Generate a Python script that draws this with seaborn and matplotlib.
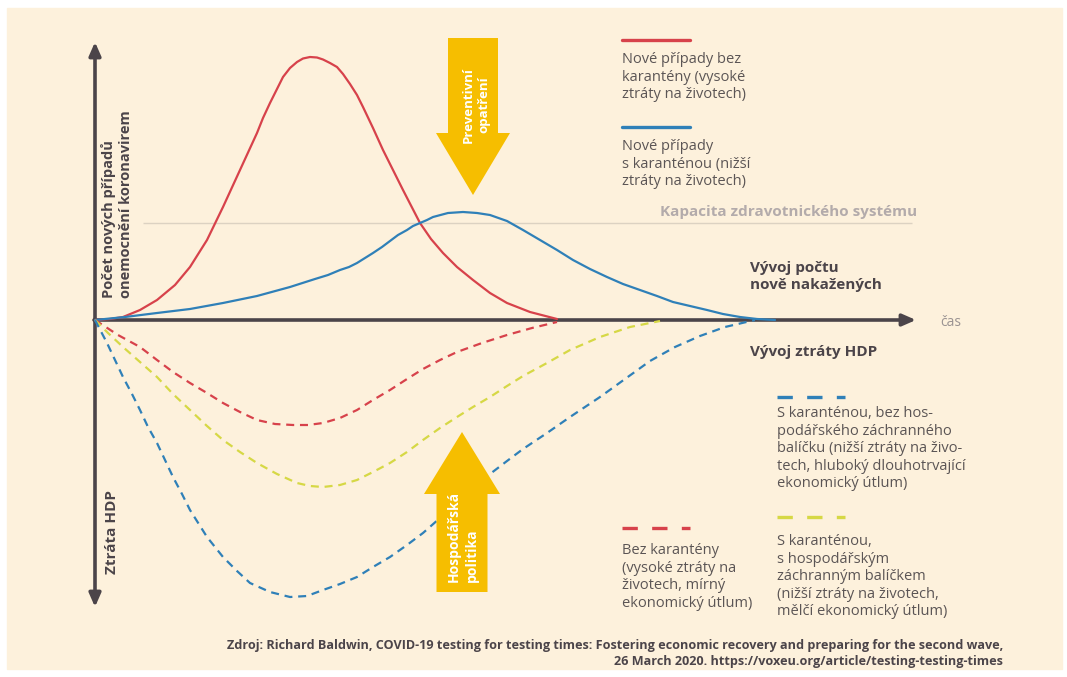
import numpy as np
import pandas as pd
import matplotlib
matplotlib.use('Agg')
import matplotlib.pyplot as plt
import seaborn as sns
from matplotlib.patches import FancyArrow, Rectangle

# Hodnoty (čas, velikost)
t_bez = [0, 15, 28, 45, 62, 80, 95, 112, 128, 145, 162, 168, 175, 182, 188, 195, 202, 208,
         215, 222, 228, 235, 242, 248, 255, 262, 268, 278, 288, 298, 308, 325, 336, 348, 362,
         378, 395, 412, 435, 462]
v_bez = [0, 1, 3, 10, 20, 35, 53, 80, 113, 150, 187, 202, 217, 231, 243, 252, 258, 261.5,
         263, 262.5, 260.5, 257, 253, 246, 236, 225, 213, 192, 170, 150, 130, 97, 81, 67, 53,
         40, 27, 17, 8, 1]

t_kar = [0, 30, 62, 95, 128, 162, 195, 220, 233, 245, 254, 262, 270, 278, 287, 295, 303,
         312, 318, 325, 332, 338, 353, 368, 382, 395, 412, 428, 445, 462, 478, 495, 512,
         528, 545, 562, 578, 595, 612, 628, 645, 662, 680]
v_kar = [0, 3, 7, 11, 17, 24, 33, 41, 45, 50, 53, 57, 62, 67, 73, 79, 85,
         90, 94, 97, 100, 103, 107, 108, 107, 105, 99, 90, 80, 70, 60, 51, 43,
         36, 30, 24, 18, 14, 10, 6, 3, 1, 0]

# ztráta HDP
t_hdp_bez = [0, 23, 45, 62, 78, 95, 112, 128, 145, 162, 180, 198, 213, 228, 245, 262,
             278, 295, 312, 328, 345, 362, 387, 412, 437, 462]
v_hdp_bez = [0, -15, -27, -40, -52, -63, -73, -83, -92, -100, -104, -105, -105, -103, -98, -90,
             -80, -70, -59, -49, -40, -32, -23, -15, -8, -2]

t_hdp_balik = [0, 13, 28, 45, 62, 78, 95, 112, 128, 145, 162, 182, 202, 215, 228, 245,
               262, 278, 295, 312, 328, 345, 362, 378, 395, 412, 428, 452, 475, 505, 535, 565]
v_hdp_balik = [0, -13, -27, -42, -57, -74, -90, -106, -120, -132, -143, -154, -163, -166, -167, -165,
               -160, -152, -143, -132, -120, -108, -97, -87, -77, -66, -56, -43, -30, -17, -7, -1]

t_hdp_kar = [0, 12, 20, 28, 37, 45, 53, 62, 70, 78, 87, 95, 112, 128, 142, 155,
             175, 195, 212, 228, 245, 262, 278, 295, 312, 328, 345, 362, 378, 395,
             412, 428, 452, 475, 505, 530, 555, 580, 605, 630, 660]
v_hdp_kar = [0, -23, -40, -57, -74, -90, -107, -123, -140, -157, -174, -190, -217, -237, -251, -263,
             -272, -277, -276, -270, -264, -257, -247, -237, -225, -213, -198, -183, -168, -154,
             -141, -129, -113, -97, -77, -59, -41, -27, -16, -7, 0]

W, H = 1067, 677
cream = '#fdf1dc'
axc = '#4b4449'
txt = '#5b5555'
red = '#d7424b'
blue = '#2f80b8'
yellowline = '#d6d845'
gold = '#f6be00'

sns.set_style('white')
plt.rcParams['font.family'] = ['Open Sans', 'DejaVu Sans']

fig = plt.figure(figsize=(W / 100, H / 100), dpi=100, facecolor='white')
ax = fig.add_axes([0, 0, 1, 1])
ax.set_xlim(-95, W - 95)
ax.set_ylim(320 - H, 320)
ax.axis('off')


def d(px, py):
    # pixel -> data
    return px - 95, 320 - py


ax.add_patch(Rectangle((7 / W, (H - 669) / H), (1062 - 7) / W, (669 - 8) / H,
                       transform=ax.transAxes, color=cream, zorder=0))

# kapacita
ax.hlines(320 - 223, 143 - 95, 912 - 95, color='#dcd2c2', lw=1, zorder=1)

# křivky
dash = (0, (3.6, 2.6))
sns.lineplot(x=t_bez, y=v_bez, ax=ax, color=red, lw=1.6, estimator=None, sort=False, zorder=3)
sns.lineplot(x=t_kar, y=v_kar, ax=ax, color=blue, lw=1.6, estimator=None, sort=False, zorder=3)
sns.lineplot(x=t_hdp_bez, y=v_hdp_bez, ax=ax, color=red, lw=1.6, linestyle=dash,
             estimator=None, sort=False, zorder=3)
sns.lineplot(x=t_hdp_balik, y=v_hdp_balik, ax=ax, color=yellowline, lw=1.6, linestyle=dash,
             estimator=None, sort=False, zorder=3)
sns.lineplot(x=t_hdp_kar, y=v_hdp_kar, ax=ax, color=blue, lw=1.6, linestyle=dash,
             estimator=None, sort=False, zorder=3)

# osy
ap = dict(arrowstyle='-|>,head_length=0.8,head_width=0.35', lw=2.6, color=axc,
          shrinkA=0, shrinkB=0)
ax.annotate('', xy=d(95, 42), xytext=d(95, 321), arrowprops=ap, zorder=2)
ax.annotate('', xy=d(95, 607), xytext=d(95, 319), arrowprops=ap, zorder=2)
ax.annotate('', xy=d(916, 320), xytext=d(94, 320), arrowprops=ap, zorder=2)

# žluté šipky
x0, y0 = d(473, 38)
ax.add_patch(FancyArrow(x0, y0, 0, -157, width=50, head_width=74, head_length=62,
                        length_includes_head=True, color=gold, lw=0, zorder=4))
x0, y0 = d(462, 592)
ax.add_patch(FancyArrow(x0, y0, 0, 160, width=51, head_width=76, head_length=62,
                        length_includes_head=True, color=gold, lw=0, zorder=4))
ax.text(*d(476, 105), 'Preventivní\nopatření', rotation=90, ha='center', va='center',
        multialignment='center', color='white', fontsize=9.5, fontweight='bold',
        linespacing=1.3, zorder=5)
ax.text(*d(463, 582), 'Hospodářská\npolitika', rotation=90, ha='center', va='bottom',
        multialignment='left', color='white', fontsize=10, fontweight='bold',
        linespacing=1.4, zorder=5)

# popisky os
ax.text(*d(117, 298), 'Počet nových případů\nonemocnění koronavirem', rotation=90,
        ha='center', va='bottom', multialignment='left', color=axc, fontsize=10.5,
        fontweight='bold', linespacing=1.35)
ax.text(*d(112, 574), 'Ztráta HDP', rotation=90, ha='center', va='bottom',
        color=axc, fontsize=11, fontweight='bold')
ax.text(*d(940, 323), 'čas', ha='left', va='center', color='#9a9392', fontsize=10)
ax.text(*d(660, 212), 'Kapacita zdravotnického systému', ha='left', va='center',
        color='#b3abab', fontsize=11, fontweight='bold')
ax.text(*d(750, 261), 'Vývoj počtu\nnově nakažených', ha='left', va='top',
        color=axc, fontsize=11, fontweight='bold', linespacing=1.3)
ax.text(*d(750, 352), 'Vývoj ztráty HDP', ha='left', va='center',
        color=axc, fontsize=11, fontweight='bold')

# legenda
ax.plot([d(622, 40)[0], d(690, 40)[0]], [d(622, 40)[1]] * 2, color=red, lw=2.4)
ax.plot([d(622, 127)[0], d(690, 127)[0]], [d(622, 127)[1]] * 2, color=blue, lw=2.4)
ldash = (0, (4.6, 4.3))
ax.plot([d(622, 528)[0], d(690, 528)[0]], [d(622, 528)[1]] * 2, color=red, lw=2.4,
        linestyle=ldash, dash_capstyle='butt')
ax.plot([d(777, 397)[0], d(845, 397)[0]], [d(777, 397)[1]] * 2, color=blue, lw=2.4,
        linestyle=ldash, dash_capstyle='butt')
ax.plot([d(777, 517)[0], d(845, 517)[0]], [d(777, 517)[1]] * 2, color=yellowline, lw=2.4,
        linestyle=ldash, dash_capstyle='butt')

lt = dict(ha='left', va='top', color=txt, fontsize=10.5, linespacing=1.23)
ax.text(*d(622, 52), 'Nové případy bez\nkarantény (vysoké\nztráty na životech)', **lt)
ax.text(*d(622, 139), 'Nové případy\ns karanténou (nižší\nztráty na životech)', **lt)
ax.text(*d(777, 406), 'S karanténou, bez hos-\npodářského záchranného\nbalíčku (nižší ztráty na živo-\ntech, hluboký dlouhotrvající\nekonomický útlum)', **lt)
ax.text(*d(777, 534), 'S karanténou,\ns hospodářským\nzáchranným balíčkem\n(nižší ztráty na životech,\nmělčí ekonomický útlum)', **lt)
ax.text(*d(622, 543), 'Bez karantény\n(vysoké ztráty na\nživotech, mírný\nekonomický útlum)', **lt)

# zdroj
ax.text(*d(1003, 645), 'Zdroj: Richard Baldwin, COVID-19 testing for testing times: Fostering economic recovery and preparing for the second wave,',
        ha='right', va='center', color=axc, fontsize=9.1, fontweight='bold')
ax.text(*d(1003, 662), '26 March 2020. https://voxeu.org/article/testing-testing-times',
        ha='right', va='center', color=axc, fontsize=9.1, fontweight='bold')

fig.savefig('out.png', dpi=100, facecolor='white')
